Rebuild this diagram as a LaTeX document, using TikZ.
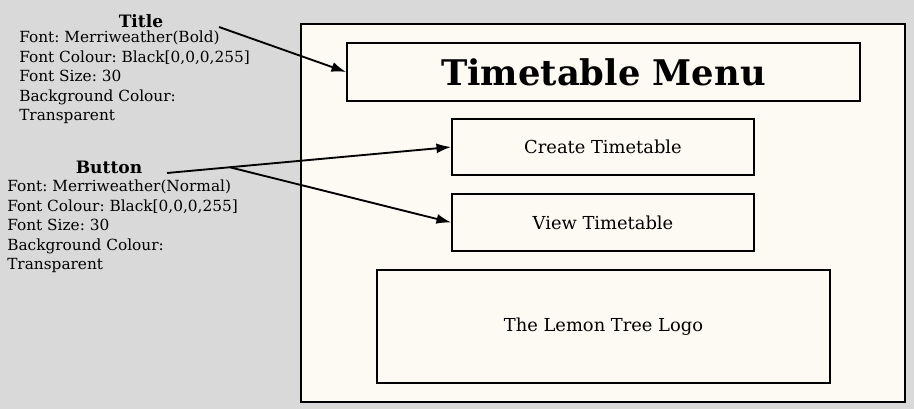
\documentclass[tikz,border=0pt]{standalone}
\usepackage{fontspec}
\setmainfont{DejaVu Serif}
\usepackage{xcolor}
\usepackage{tikz}
\usetikzlibrary{arrows.meta,positioning,calc}

\definecolor{canvas}{HTML}{D9D9D9}
\definecolor{paper}{HTML}{FDFAF3}
\frenchspacing

\begin{document}
\begin{tikzpicture}[x=0.75pt,y=-0.75pt,
    widget/.style={draw, line width=1.3pt, fill=paper, inner sep=0pt},
    spec/.style={align=left, inner sep=0pt, font=\fontsize{11.5}{14.6}\selectfont},
    heading/.style={inner sep=0pt, font=\fontsize{12.8}{14}\selectfont\bfseries},
    pointer/.style={line width=1.4pt, -{Latex[length=11pt,width=7.5pt]}}]
    % Background and screen
    \useasboundingbox (0,0) rectangle (914,409);
    \fill[canvas] (0,0) rectangle (914,409);
    \draw[line width=1.3pt, fill=paper] (301,24) rectangle (905,402);

    % Screen widgets
    \node[widget, minimum width=513*0.75pt, minimum height=58*0.75pt,
          font=\fontsize{26.5}{30}\selectfont\bfseries] (menutitle) at (603.5,72) {Timetable Menu};
    \node[widget, minimum width=302*0.75pt, minimum height=56*0.75pt,
          font=\fontsize{13.4}{16}\selectfont] (createbtn) at (603,147) {Create Timetable};
    \node[widget, minimum width=302*0.75pt, minimum height=57*0.75pt,
          font=\fontsize{13.4}{16}\selectfont] (viewbtn) at (603,222.5) {View Timetable};
    \node[widget, minimum width=453*0.75pt, minimum height=113*0.75pt,
          font=\fontsize{13.4}{16}\selectfont] (logo) at (603.5,326.5) {The Lemon Tree Logo};

    % Title annotation
    \node[heading] (titlelbl) at (141,21) {Title};
    \node[spec, anchor=north west] (titlespec) at (19,31) {
        Font: Merriweather(Bold)\\
        Font Colour: Black[0,0,0,255]\\
        Font Size: 30\\
        Background Colour:\\
        Transparent
    };

    % Button annotation
    \node[heading] (buttonlbl) at (109,167) {Button};
    \node[spec, anchor=north west] (buttonspec) at (7,180) {
        Font: Merriweather(Normal)\\
        Font Colour: Black[0,0,0,255]\\
        Font Size: 30\\
        Background Colour:\\
        Transparent
    };

    % Pointers
    \coordinate (titlestart) at (219,27);
    \coordinate (buttonstart) at (167,173);
    \coordinate (fork) at ($(buttonstart)!0.221!(createbtn.west)$);
    \draw[pointer] (titlestart) -- (menutitle.west);
    \draw[pointer] (buttonstart) -- (createbtn.west);
    \draw[pointer] (fork) -- (viewbtn.west);
\end{tikzpicture}
\end{document}
